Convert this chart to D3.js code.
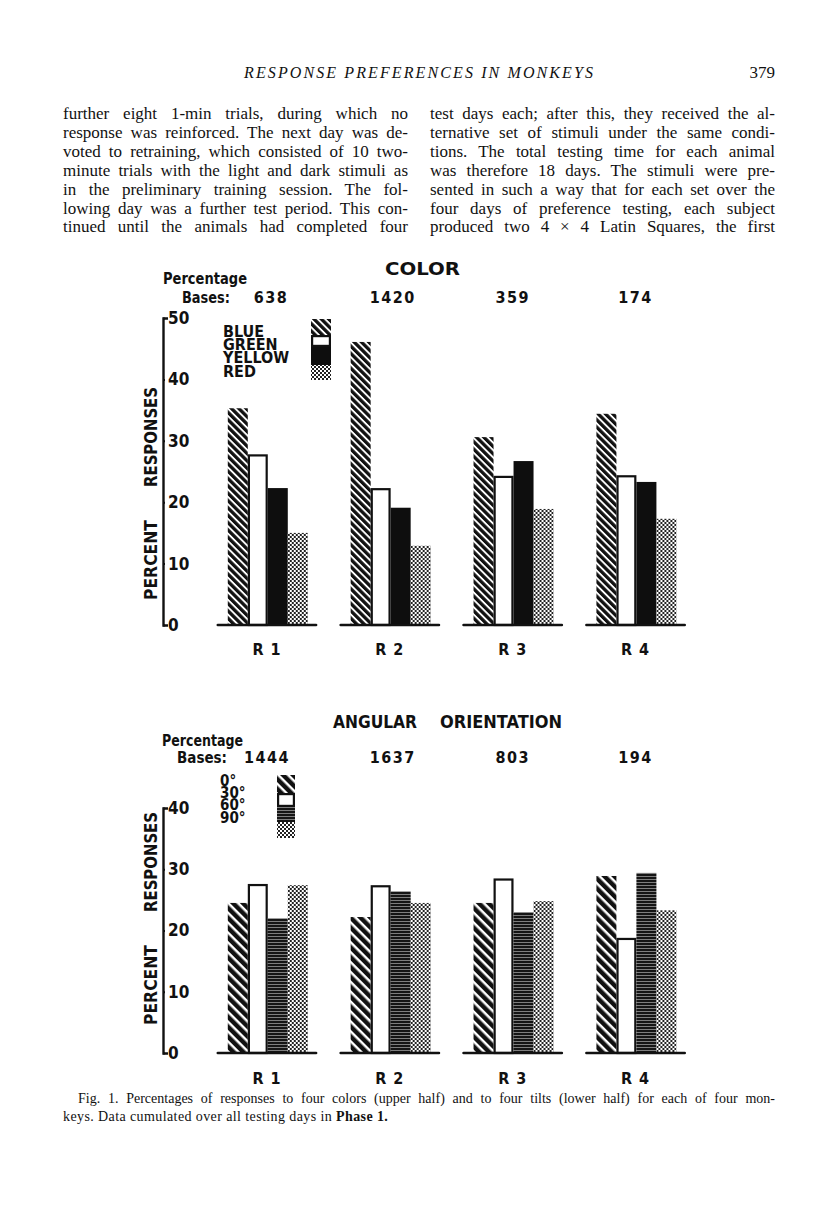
<!DOCTYPE html>
<html>
<head>
<meta charset="utf-8">
<script src="https://cdn.jsdelivr.net/npm/d3@7"></script>
<style>
  body { margin: 0; background: #fff; }
  svg { display: block; }
</style>
</head>
<body>
<script>
// values (percent of responses)
const subjects = ["R 1", "R 2", "R 3", "R 4"];

const colorKeys = ["BLUE", "GREEN", "YELLOW", "RED"];
const colorValues = [
  [35.3, 27.8, 22.3, 15.0],
  [46.1, 22.3, 19.1, 12.9],
  [30.6, 24.3, 26.7, 18.9],
  [34.4, 24.4, 23.3, 17.3]
];
const colorBases = ["638", "1420", "359", "174"];
const colorTicks = [0, 10, 20, 30, 40, 50];

const tiltKeys = ["0°", "30°", "60°", "90°"];
const tiltValues = [
  [24.5, 27.6, 22.0, 27.4],
  [22.2, 27.4, 26.4, 24.5],
  [24.5, 28.5, 23.0, 24.8],
  [28.9, 18.8, 29.4, 23.3]
];
const tiltBases = ["1444", "1637", "803", "194"];
const tiltTicks = [0, 10, 20, 30, 40];

// page text
const header = "RESPONSE PREFERENCES IN MONKEYS";
const pageNo = "379";
const leftCol = [
  "further eight 1-min trials, during which no",
  "response was reinforced. The next day was de-",
  "voted to retraining, which consisted of 10 two-",
  "minute trials with the light and dark stimuli as",
  "in the preliminary training session. The fol-",
  "lowing day was a further test period. This con-",
  "tinued until the animals had completed four"
];
const rightCol = [
  "test days each; after this, they received the al-",
  "ternative set of stimuli under the same condi-",
  "tions. The total testing time for each animal",
  "was therefore 18 days. The stimuli were pre-",
  "sented in such a way that for each set over the",
  "four days of preference testing, each subject",
  "produced two 4 × 4 Latin Squares, the first"
];
const caption = [
  "Fig. 1. Percentages of responses to four colors (upper half) and to four tilts (lower half) for each of four mon-",
  "keys. Data cumulated over all testing days in ",
  "Phase 1."
];

const W = 816, H = 1207;
const serif = "'Liberation Serif', 'DejaVu Serif', serif";
const chartFont = "'DejaVu Sans Condensed', 'DejaVu Sans', sans-serif";
const ink = "#111";

const svg = d3.select("body").append("svg")
  .attr("width", W)
  .attr("height", H);

const defs = svg.append("defs");

function stripes(id, size, band, angle, bg, fg) {
  const p = defs.append("pattern")
    .attr("id", id)
    .attr("patternUnits", "userSpaceOnUse")
    .attr("width", size)
    .attr("height", size)
    .attr("patternTransform", `rotate(${angle})`);
  p.append("rect").attr("width", size).attr("height", size).attr("fill", bg);
  p.append("rect").attr("width", size).attr("height", band).attr("fill", fg);
}
stripes("hatchUp", 5.2, 1.9, 45, ink, "#fff");
stripes("hatchLow", 7, 2.5, 45, ink, "#fff");
stripes("hlines", 3, 0.9, 0, "#151515", "#8a8a8a");

const dots = defs.append("pattern")
  .attr("id", "dots")
  .attr("patternUnits", "userSpaceOnUse")
  .attr("width", 4)
  .attr("height", 4);
dots.append("rect").attr("width", 4).attr("height", 4).attr("fill", "#fff");
dots.append("rect").attr("width", 2).attr("height", 2).attr("fill", "#222");
dots.append("rect").attr("x", 2).attr("y", 2).attr("width", 2).attr("height", 2).attr("fill", "#222");

// ---------- page text ----------
function justify(sel, width) {
  sel.each(function () {
    const natural = this.getComputedTextLength();
    const gaps = this.textContent.split(" ").length - 1;
    if (gaps > 0) d3.select(this).attr("word-spacing", (width - natural) / gaps);
  });
}

svg.append("text")
  .attr("x", 244).attr("y", 78)
  .attr("font-family", serif).attr("font-style", "italic").attr("font-size", 16)
  .attr("textLength", 349).attr("lengthAdjust", "spacing")
  .attr("fill", ink)
  .text(header);

svg.append("text")
  .attr("x", 775).attr("y", 78)
  .attr("text-anchor", "end")
  .attr("font-family", serif).attr("font-size", 17)
  .attr("fill", ink)
  .text(pageNo);

[[leftCol, 63], [rightCol, 430]].forEach(([lines, xStart]) => {
  svg.append("g").selectAll("text")
    .data(lines)
    .join("text")
    .attr("x", xStart)
    .attr("y", (d, i) => 119 + i * 18.9)
    .attr("font-family", serif).attr("font-size", 17)
    .attr("fill", ink)
    .text(d => d)
    .call(justify, 345);
});

svg.append("text")
  .attr("x", 78).attr("y", 1103)
  .attr("font-family", serif).attr("font-size", 14)
  .attr("fill", ink)
  .text(caption[0])
  .call(justify, 697);

const cap2 = svg.append("text")
  .attr("x", 63).attr("y", 1121)
  .attr("font-family", serif).attr("font-size", 14)
  .attr("letter-spacing", 0.4)
  .attr("fill", ink);
cap2.append("tspan").text(caption[1]);
cap2.append("tspan").attr("font-weight", "bold").text(caption[2]);

// ---------- charts ----------
const axisX = 163;
const x0 = d3.scaleBand()
  .domain(subjects)
  .range([205.5, 697])
  .paddingInner(0.2)
  .paddingOuter(0.1);
const x1 = d3.scaleBand()
  .domain(d3.range(4))
  .range([10, 90]);

function label(g, txt, x, y, size, opts = {}) {
  const t = g.append("text")
    .attr("x", x).attr("y", y)
    .attr("font-family", chartFont)
    .attr("font-weight", "bold")
    .attr("font-size", size)
    .attr("fill", ink)
    .attr("text-anchor", opts.anchor || "start")
    .text(txt);
  if (opts.len) t.attr("textLength", opts.len).attr("lengthAdjust", "spacingAndGlyphs");
  if (opts.rotate) t.attr("transform", `rotate(-90,${x},${y})`);
  return t;
}

function drawPanel(cfg) {
  const g = svg.append("g");
  const y = d3.scaleLinear().domain([0, d3.max(cfg.ticks)]).range(cfg.yRange);

  // titles
  cfg.titles.forEach(t => label(g, t.text, t.x, t.y, 17, { len: t.len }));
  label(g, "Percentage", cfg.pct[0], cfg.pct[1], 15, { len: cfg.pct[2] });
  label(g, "Bases:", cfg.bas[0], cfg.bas[1], 15, { len: cfg.bas[2] });
  g.append("g").selectAll("text")
    .data(cfg.bases)
    .join("text")
    .attr("x", (d, i) => x0(subjects[i]) + x0.bandwidth() / 2 + cfg.baseShift[i])
    .attr("y", cfg.bas[1])
    .attr("text-anchor", "middle")
    .attr("font-family", chartFont).attr("font-weight", "bold")
    .attr("font-size", 16).attr("letter-spacing", 1.5)
    .attr("fill", ink)
    .text(d => d);

  // y axis
  const ax = g.append("g")
    .attr("transform", `translate(${axisX},0)`)
    .call(d3.axisRight(y)
      .tickValues(cfg.ticks)
      .tickSize(2)
      .tickSizeOuter(5)
      .tickPadding(3)
      .tickFormat(d3.format("d")));
  ax.attr("font-family", chartFont).attr("font-size", 17).attr("font-weight", "bold");
  ax.select(".domain").attr("stroke", ink).attr("stroke-width", 2.4);
  ax.selectAll(".tick line").attr("stroke", ink).attr("stroke-width", 2);
  ax.selectAll(".tick text").attr("fill", ink);

  label(g, "PERCENT", 157, cfg.percentY, 17, { anchor: "middle", len: 80, rotate: true });
  label(g, "RESPONSES", 157, cfg.responsesY, 17, { anchor: "middle", len: 100, rotate: true });

  // bars
  const groups = g.append("g").selectAll("g")
    .data(cfg.values)
    .join("g")
    .attr("transform", (d, i) => `translate(${x0(subjects[i])},0)`);

  groups.selectAll("rect")
    .data(d => d)
    .join("rect")
    .attr("x", (d, i) => x1(i) + (i === 1 ? 1.1 : 0))
    .attr("y", (d, i) => y(d) + (i === 1 ? 1.1 : 0))
    .attr("width", (d, i) => x1.bandwidth() - (i === 1 ? 2.2 : 0))
    .attr("height", (d, i) => y(0) - y(d) - (i === 1 ? 1.1 : 0))
    .attr("fill", (d, i) => cfg.fills[i])
    .attr("stroke", (d, i) => i === 1 ? ink : "none")
    .attr("stroke-width", 2.2);

  groups.append("line")
    .attr("x1", 0).attr("x2", x0.bandwidth())
    .attr("y1", y(0)).attr("y2", y(0))
    .attr("stroke", ink).attr("stroke-width", 2.6)
    .attr("stroke-linecap", "round");

  groups.append("text")
    .attr("x", x0.bandwidth() / 2)
    .attr("y", cfg.rY)
    .attr("text-anchor", "middle")
    .attr("font-family", chartFont).attr("font-weight", "bold")
    .attr("font-size", 16).attr("letter-spacing", 1)
    .attr("fill", ink)
    .text((d, i) => subjects[i]);

  // legend: one stacked text block, tightly leaded as in the print
  const lg = g.append("g");
  lg.append("text")
    .attr("font-family", chartFont).attr("font-weight", "bold")
    .attr("font-size", cfg.legend.size)
    .attr("fill", ink)
    .selectAll("tspan")
    .data(cfg.keys)
    .join("tspan")
    .attr("x", cfg.legend.x)
    .attr("y", (d, i) => cfg.legend.rows[i])
    .text(d => d);
  const edges = cfg.legend.edges;
  lg.selectAll("rect")
    .data(cfg.keys)
    .join("rect")
    .attr("x", (d, i) => cfg.legend.sx + (i === 1 ? 1.1 : 0))
    .attr("y", (d, i) => edges[i] + (i === 1 ? 1.1 : 0))
    .attr("width", (d, i) => cfg.legend.sw - (i === 1 ? 2.2 : 0))
    .attr("height", (d, i) => edges[i + 1] - edges[i] - (i === 1 ? 2.2 : 0))
    .attr("fill", (d, i) => cfg.fills[i])
    .attr("stroke", (d, i) => i === 1 ? ink : "none")
    .attr("stroke-width", 2.2);
}

drawPanel({
  keys: colorKeys,
  values: colorValues,
  bases: colorBases,
  ticks: colorTicks,
  yRange: [625, 318],
  fills: ["url(#hatchUp)", "#fff", "#0e0e0e", "url(#dots)"],
  titles: [{ text: "COLOR", x: 385, y: 275, len: 75 }],
  pct: [163, 284, 84],
  bas: [182, 303, 48],
  baseShift: [4, 3, 0, 0],
  percentY: 560,
  responsesY: 437,
  rY: 655,
  legend: { x: 223, rows: [337, 350, 363, 377], size: 16, sx: 311, sw: 20, edges: [319, 335, 347, 365, 380] }
});

drawPanel({
  keys: tiltKeys,
  values: tiltValues,
  bases: tiltBases,
  ticks: tiltTicks,
  yRange: [1053, 808],
  fills: ["url(#hatchLow)", "#fff", "url(#hlines)", "url(#dots)"],
  titles: [
    { text: "ANGULAR", x: 333, y: 728, len: 84 },
    { text: "ORIENTATION", x: 440, y: 728, len: 122 }
  ],
  pct: [162, 746, 81],
  bas: [177, 763, 50],
  baseShift: [0, 3, 0, 0],
  percentY: 985,
  responsesY: 862,
  rY: 1084,
  legend: { x: 220, rows: [786, 798, 810, 823], size: 15, sx: 277, sw: 18, edges: [775, 793, 807, 822, 838] }
});
</script>
</body>
</html>
